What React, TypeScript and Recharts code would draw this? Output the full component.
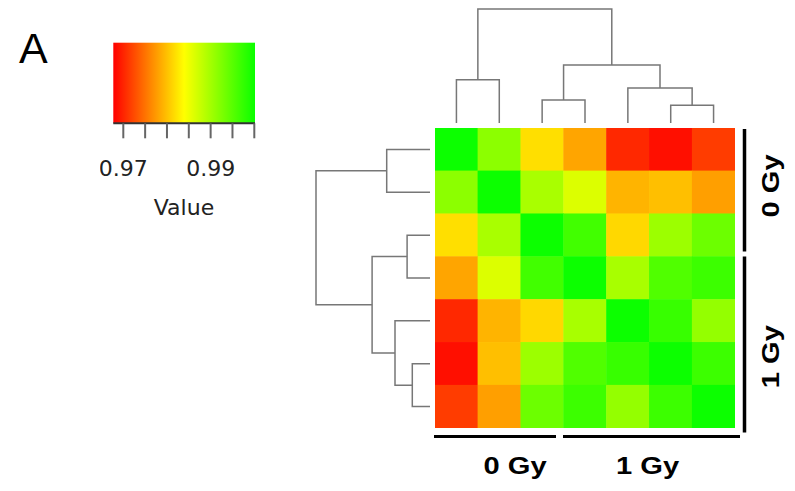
import React from "react";
import { ScatterChart, Scatter, XAxis, YAxis, ReferenceArea } from "recharts";

// sample order (rows and columns are the same 7 samples)
const samples = [1, 2, 3, 4, 5, 6, 7];

// correlation values, row by row
const corr = [
  [1.0, 0.9917, 0.9822, 0.9784, 0.9703, 0.9687, 0.9716],
  [0.9917, 1.0, 0.9898, 0.9865, 0.9794, 0.9801, 0.978],
  [0.9822, 0.9898, 1.0, 0.9966, 0.9817, 0.9907, 0.9938],
  [0.9784, 0.9865, 0.9966, 1.0, 0.9899, 0.9956, 0.9969],
  [0.9703, 0.9794, 0.9817, 0.9899, 1.0, 0.9972, 0.9912],
  [0.9687, 0.9801, 0.9907, 0.9956, 0.9972, 1.0, 0.9969],
  [0.9716, 0.978, 0.9938, 0.9969, 0.9912, 0.9969, 1.0],
];

// hclust-style merges: negative = leaf, positive = earlier merge step
const mergeA = [-6, -3, -5, -1, 2, 4];
const mergeB = [-7, -4, 1, -2, 3, 5];
const mergeHeight = [17.7, 22.9, 35, 43.3, 57.9, 114];

const keyTicks = [0.97, 0.975, 0.98, 0.985, 0.99, 0.995, 1.0];
const keyLabels = [0.97, 0.99];
const keyMin = 0.96771;
const keyMax = 1.00016;
const colorMin = 0.9677;
const colorMax = 1.0008;

const DENDRO = "#777";
const CELL = 300 / 7;

function heatColor(v: number) {
  const t = Math.max(0, Math.min(1, (v - colorMin) / (colorMax - colorMin)));
  let r = 255;
  let g = 255;
  if (t < 0.5) g = Math.round(t * 2 * 255);
  else r = Math.round((1 - t) * 2 * 255);
  return `rgb(${r},${g},0)`;
}

function dendroPaths() {
  const pos: number[] = [];
  const hts: number[] = [];
  const node = (id: number) =>
    id < 0 ? { p: -id, h: 0 } : { p: pos[id - 1], h: hts[id - 1] };
  const paths: { p: number; h: number }[][] = [];
  mergeA.forEach((a, i) => {
    const A = node(a);
    const B = node(mergeB[i]);
    const H = mergeHeight[i];
    paths.push([
      { p: A.p, h: A.h },
      { p: A.p, h: H },
      { p: B.p, h: H },
      { p: B.p, h: B.h },
    ]);
    pos.push((A.p + B.p) / 2);
    hts.push(H);
  });
  return paths;
}

const cells = corr.flatMap((row, r) =>
  row.map((v, c) => ({ col: samples[c], row: samples[r], v }))
);
const paths = dendroPaths();
const rootH = mergeHeight[mergeHeight.length - 1];

const noDot = () => <g />;

// wide bold group label
function GroupLabel({ x, y, rotate, text }: { x: number; y: number; rotate?: boolean; text: string }) {
  return (
    <text
      transform={`translate(${x} ${y})${rotate ? " rotate(-90)" : ""} scale(1.24 1)`}
      fontFamily="Liberation Sans, Arial"
      fontWeight="bold"
      fontSize={23.5}
      fill="#000"
      textAnchor="middle"
    >
      {text}
    </text>
  );
}

export default function App() {
  return (
    <div style={{ position: "absolute", left: 0, top: 0, width: 795, height: 491, background: "#fff" }}>
      {/* colour key */}
      <div style={{ position: "absolute", left: 100, top: 30 }}>
        <ScatterChart width={170} height={200} margin={{ top: 12.7, left: 13.3, right: 15, bottom: 46.7 }}>
          <XAxis
            type="number"
            dataKey="x"
            domain={[keyMin, keyMax]}
            ticks={keyTicks}
            interval={0}
            height={60}
            tickSize={15}
            tickMargin={22}
            tickLine={{ stroke: "#666", strokeWidth: 2 }}
            axisLine={{ stroke: "#333", strokeWidth: 2 }}
            tick={{ fill: "#222", fontSize: 22, fontFamily: "DejaVu Sans" }}
            tickFormatter={(v: number) =>
              keyLabels.some((l) => Math.abs(l - v) < 1e-9) ? v.toFixed(2) : ""
            }
          />
          <YAxis type="number" dataKey="y" domain={[0, 1]} hide />
          <ReferenceArea
            x1={keyMin}
            x2={keyMax}
            y1={0}
            y2={1}
            shape={(p: any) => (
              <g>
                <defs>
                  <linearGradient id="keyGrad" x1="0" x2="1" y1="0" y2="0">
                    <stop offset="0%" stopColor={heatColor(keyMin)} />
                    <stop offset="50%" stopColor={heatColor((colorMin + colorMax) / 2)} />
                    <stop offset="100%" stopColor={heatColor(keyMax)} />
                  </linearGradient>
                </defs>
                <rect x={p.x} y={p.y} width={p.width} height={p.height} fill="url(#keyGrad)" />
              </g>
            )}
          />
          <Scatter data={[{ x: keyMin, y: 0 }]} shape={noDot} isAnimationActive={false} />
        </ScatterChart>
      </div>

      {/* column dendrogram */}
      <div style={{ position: "absolute", left: 435, top: 0 }}>
        <ScatterChart width={300} height={124} margin={{ top: 9, right: 0, bottom: 1, left: 0 }}>
          <XAxis type="number" dataKey="p" domain={[0.5, 7.5]} hide />
          <YAxis type="number" dataKey="h" domain={[0, rootH]} hide />
          {paths.map((d, i) => (
            <Scatter
              key={i}
              data={d}
              line={{ stroke: DENDRO, strokeWidth: 1.5 }}
              shape={noDot}
              isAnimationActive={false}
            />
          ))}
        </ScatterChart>
      </div>

      {/* row dendrogram */}
      <div style={{ position: "absolute", left: 306, top: 128.3 }}>
        <ScatterChart width={125} height={300} margin={{ top: 0, right: 1, bottom: 0, left: 10 }}>
          <XAxis type="number" dataKey="h" domain={[0, rootH]} reversed hide />
          <YAxis type="number" dataKey="p" domain={[0.5, 7.5]} reversed hide />
          {paths.map((d, i) => (
            <Scatter
              key={i}
              data={d}
              line={{ stroke: DENDRO, strokeWidth: 1.5 }}
              shape={noDot}
              isAnimationActive={false}
            />
          ))}
        </ScatterChart>
      </div>

      {/* heatmap */}
      <div style={{ position: "absolute", left: 435, top: 128.3 }}>
        <ScatterChart width={300} height={300} margin={{ top: 0, right: 0, bottom: 0, left: 0 }}>
          <XAxis type="number" dataKey="col" domain={[0.5, 7.5]} hide />
          <YAxis type="number" dataKey="row" domain={[0.5, 7.5]} reversed hide />
          <Scatter
            data={cells}
            isAnimationActive={false}
            shape={(p: any) => (
              <rect
                x={p.cx - CELL / 2 - 0.25}
                y={p.cy - CELL / 2 - 0.25}
                width={CELL + 0.5}
                height={CELL + 0.5}
                fill={heatColor(p.payload.v)}
              />
            )}
          />
        </ScatterChart>
      </div>

      {/* annotations */}
      <svg width={795} height={491} style={{ position: "absolute", left: 0, top: 0, pointerEvents: "none" }}>
        <text x={19} y={62.7} fontSize={43} fontFamily="Liberation Sans, Arial" fill="#000">A</text>
        <text x={184} y={215} fontSize={22} fontFamily="DejaVu Sans" fill="#222" textAnchor="middle">Value</text>

        <line x1={434} x2={556} y1={436.5} y2={436.5} stroke="#000" strokeWidth={3} />
        <line x1={563} x2={740} y1={436.5} y2={436.5} stroke="#000" strokeWidth={3} />
        <line x1={744.5} x2={744.5} y1={129} y2={251.5} stroke="#000" strokeWidth={3.5} />
        <line x1={744.5} x2={744.5} y1={256.5} y2={432.5} stroke="#000" strokeWidth={3.5} />

        <GroupLabel x={515} y={473.5} text="0 Gy" />
        <GroupLabel x={647.5} y={473.5} text="1 Gy" />
        <GroupLabel x={778.5} y={186} rotate text="0 Gy" />
        <GroupLabel x={778.5} y={356.7} rotate text="1 Gy" />
      </svg>
    </div>
  );
}
